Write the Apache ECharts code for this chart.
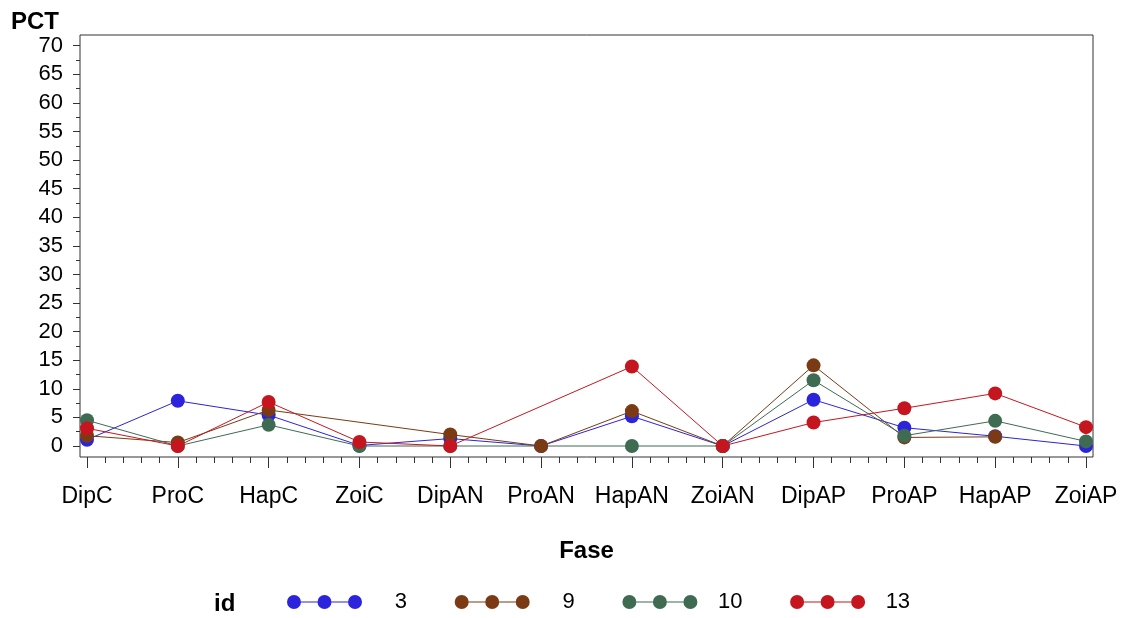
<!DOCTYPE html>
<html>
<head>
<meta charset="utf-8">
<script src="https://cdn.jsdelivr.net/npm/echarts@6/dist/echarts.min.js"></script>
<style>
  html, body { margin: 0; padding: 0; background: #fff; }
  #chart { width: 1126px; height: 618px; }
</style>
</head>
<body>
<div id="chart"></div>
<script>
// Fase categories along the x axis
const categories = ['DipC', 'ProC', 'HapC', 'ZoiC', 'DipAN', 'ProAN', 'HapAN', 'ZoiAN', 'DipAP', 'ProAP', 'HapAP', 'ZoiAP'];

// PCT per id (null = no observation for that Fase)
const pctId3  = [1.1, 7.9, 5.4, 0.1, 1.3, 0,    5.2,  0, 8.1,  3.2, 1.7, 0];
const pctId9  = [1.8, 0.6, 6.3, null, 2.0, 0,   6.1,  0, 14.1, 1.5, 1.6, null];
const pctId10 = [4.5, 0,   3.7, 0,   0,   null, 0,    0, 11.5, 1.8, 4.4, 0.8];
const pctId13 = [3.1, 0,   7.7, 0.7, 0,   null, 13.9, 0, 4.1,  6.6, 9.2, 3.3];

const ids = ['3', '9', '10', '13'];
const idValues = [pctId3, pctId9, pctId10, pctId13];
const idColors = ['#2b24dc', '#7a3b14', '#3f6b52', '#c5161f'];

// y axis ticks
const yMin = 0, yMax = 70, yStep = 5;

const FONT = '"Liberation Sans", Arial, sans-serif';

// legend glyph: three dots joined by a line
const legendIcon = 'path://M0,7a7,7 0 1,0 14,0a7,7 0 1,0 -14,0Z' +
  'M30.5,7a7,7 0 1,0 14,0a7,7 0 1,0 -14,0Z' +
  'M61,7a7,7 0 1,0 14,0a7,7 0 1,0 -14,0Z' +
  'M14,6.5H30.5V7.5H14Z' +
  'M44.5,6.5H61V7.5H44.5Z';

const series = ids.map((id, k) => ({
  name: id,
  type: 'line',
  xAxisIndex: 1,
  yAxisIndex: 1,
  data: idValues[k].map((v, i) => [i, v]).filter(d => d[1] !== null),
  symbol: 'circle',
  symbolSize: 14,
  clip: false,
  color: idColors[k],
  lineStyle: { width: 1, color: idColors[k] },
  itemStyle: { color: idColors[k] },
  emphasis: { disabled: true }
}));

const chart = echarts.init(document.getElementById('chart'), null, { renderer: 'canvas' });

chart.setOption({
  animation: false,
  backgroundColor: '#ffffff',
  textStyle: { fontFamily: FONT },
  title: [
    { text: 'PCT', left: 11, top: 10, padding: 0,
      textStyle: { fontSize: 24, fontWeight: 'bold', color: '#000', fontFamily: FONT } },
    { text: 'id', left: 214, top: 592, padding: 0,
      textStyle: { fontSize: 24, fontWeight: 'bold', color: '#000', fontFamily: FONT } }
  ],
  legend: {
    data: ids,
    left: 287,
    top: 591,
    padding: 0,
    icon: legendIcon,
    itemWidth: 75,
    itemHeight: 14,
    itemGap: 47.7,
    selectedMode: false,
    itemStyle: { borderWidth: 0 },
    formatter: '{r|{name}}',
    textStyle: {
      fontSize: 22, color: '#000', fontFamily: FONT,
      rich: { r: { width: 40, align: 'right', fontSize: 22, color: '#000', fontFamily: FONT } }
    }
  },
  grid: [
    // outer frame
    { left: 80, right: 33, top: 35, bottom: 161, show: true, borderColor: '#333', borderWidth: 1, backgroundColor: 'transparent' },
    // data area
    { left: 87, right: 40, top: 45.7, bottom: 172 }
  ],
  xAxis: [
    { gridIndex: 0, type: 'value', show: false, min: 0, max: 1 },
    {
      gridIndex: 1,
      type: 'value',
      min: 0,
      max: categories.length - 1,
      interval: 1,
      offset: 11,
      axisLine: { show: false, onZero: false },
      axisTick: { show: true, length: 11, lineStyle: { color: '#333', width: 1 } },
      minorTick: { show: true, splitNumber: 5, length: 6, lineStyle: { color: '#333', width: 1 } },
      splitLine: { show: false },
      minorSplitLine: { show: false },
      axisLabel: {
        margin: 28,
        fontSize: 23,
        color: '#000',
        fontFamily: FONT,
        formatter: v => (Number.isInteger(v) && categories[v] !== undefined) ? categories[v] : ''
      },
      name: 'Fase',
      nameLocation: 'middle',
      nameGap: 82,
      nameTextStyle: { fontSize: 24, fontWeight: 'bold', color: '#000', fontFamily: FONT }
    }
  ],
  yAxis: [
    { gridIndex: 0, type: 'value', show: false, min: 0, max: 1 },
    {
      gridIndex: 1,
      type: 'value',
      min: yMin,
      max: yMax,
      interval: yStep,
      offset: 7,
      axisLine: { show: false, onZero: false },
      axisTick: { show: true, length: 7, lineStyle: { color: '#333', width: 1 } },
      minorTick: { show: true, splitNumber: 2, length: 4, lineStyle: { color: '#333', width: 1 } },
      splitLine: { show: false },
      minorSplitLine: { show: false },
      axisLabel: { margin: 17, fontSize: 22, color: '#000', fontFamily: FONT }
    }
  ],
  series: series
});
</script>
</body>
</html>
